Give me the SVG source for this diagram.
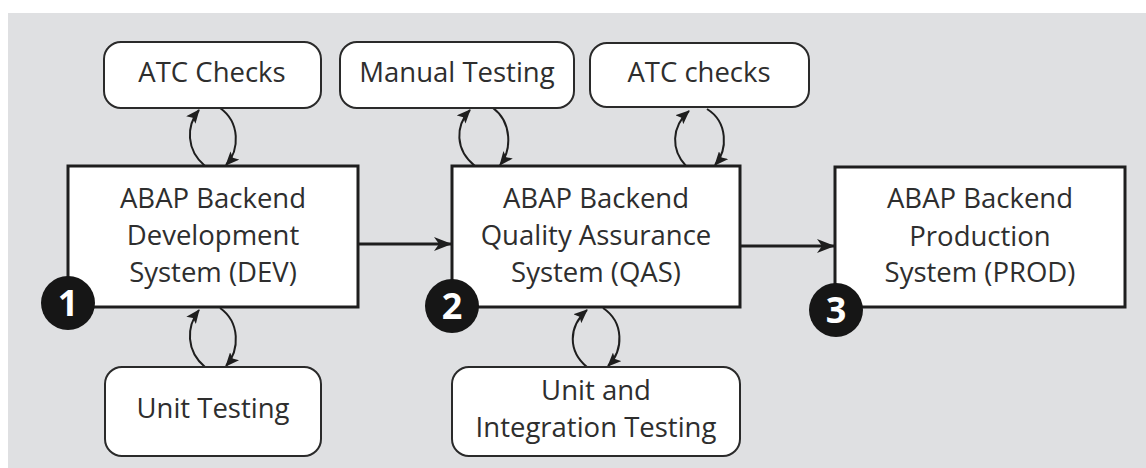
<svg xmlns="http://www.w3.org/2000/svg" width="1146" height="468" viewBox="0 0 1146 468">
  <defs>
    <marker id="ah" viewBox="0 0 14 12" refX="13" refY="6" markerWidth="14" markerHeight="12" markerUnits="userSpaceOnUse" orient="auto">
      <path d="M0,0 L14,6 L0,12 L3,6 Z" fill="#1e1e1e"/>
    </marker>
    <marker id="ahl" viewBox="0 0 18 14" refX="17" refY="7" markerWidth="18" markerHeight="14" markerUnits="userSpaceOnUse" orient="auto">
      <path d="M0,0 L18,7 L0,14 L5,7 Z" fill="#1e1e1e"/>
    </marker>
  </defs>
  <style>
    .sys { fill: #ffffff; stroke: #1e1e1e; stroke-width: 3; }
    .act { fill: #ffffff; stroke: #2a2a2a; stroke-width: 2; }
    .t { font-family: "Open Sans", "Noto Sans", sans-serif; font-size: 27.5px; fill: #2e2e2e; text-anchor: middle; }
    .num { font-family: "Open Sans", "Noto Sans", sans-serif; font-size: 36px; font-weight: bold; fill: #ffffff; text-anchor: middle; }
    .badge { fill: #161616; }
    .loop { fill: none; stroke: #1e1e1e; stroke-width: 2; marker-end: url(#ah); }
    .flow { fill: none; stroke: #1e1e1e; stroke-width: 3; marker-end: url(#ahl); }
  </style>
  <rect x="8" y="13" width="1138" height="455" fill="#dfe0e2"/>

  <g id="connectors">
    <path class="flow" d="M358,244 L451,244"/>
    <path class="flow" d="M740,246 L834,246"/>
    <!-- DEV <-> ATC Checks -->
    <path class="loop" d="M205,166 C186,150 186,126 199,110"/>
    <path class="loop" d="M220,108 C240,122 240,150 226,165"/>
    <!-- DEV <-> Unit Testing -->
    <path class="loop" d="M205,367 C186,351 186,327 199,310"/>
    <path class="loop" d="M220,308 C240,322 240,350 226,366"/>
    <!-- QAS <-> Manual Testing -->
    <path class="loop" d="M475,166 C455,150 455,126 470,110"/>
    <path class="loop" d="M493,108 C512,122 512,150 500,165"/>
    <!-- QAS <-> ATC checks -->
    <path class="loop" d="M686,166 C671,150 671,127 689,111"/>
    <path class="loop" d="M707,109 C728,122 728,150 715,165"/>
    <!-- QAS <-> Unit and Integration -->
    <path class="loop" d="M587,367 C568,351 568,327 587,310"/>
    <path class="loop" d="M603,308 C624,322 624,350 608,366"/>
  </g>

  <g id="atc-dev">
    <rect class="act" x="104" y="42" width="217" height="66" rx="17"/>
    <text class="t" x="212" y="82">ATC Checks</text>
  </g>
  <g id="manual-testing">
    <rect class="act" x="340" y="42" width="234" height="66" rx="17"/>
    <text class="t" x="457" y="82">Manual Testing</text>
  </g>
  <g id="atc-qas">
    <rect class="act" x="590" y="43" width="219" height="64" rx="17"/>
    <text class="t" x="699" y="82">ATC checks</text>
  </g>
  <g id="unit-testing">
    <rect class="act" x="105" y="367" width="216" height="89" rx="17"/>
    <text class="t" x="213" y="418">Unit Testing</text>
  </g>
  <g id="unit-integration">
    <rect class="act" x="452" y="367" width="288" height="89" rx="17"/>
    <text class="t" x="596" y="400">Unit and</text>
    <text class="t" x="596" y="437">Integration Testing</text>
  </g>

  <g id="dev">
    <rect class="sys" x="68" y="166" width="290" height="141"/>
    <text class="t" x="213" y="208">ABAP Backend</text>
    <text class="t" x="213" y="245">Development</text>
    <text class="t" x="213" y="282">System (DEV)</text>
    <circle class="badge" cx="68" cy="303" r="27"/>
    <text class="num" x="68" y="316">1</text>
  </g>
  <g id="qas">
    <rect class="sys" x="452" y="166" width="288" height="141"/>
    <text class="t" x="596" y="208">ABAP Backend</text>
    <text class="t" x="596" y="245">Quality Assurance</text>
    <text class="t" x="596" y="282">System (QAS)</text>
    <circle class="badge" cx="452" cy="306" r="27"/>
    <text class="num" x="452" y="319">2</text>
  </g>
  <g id="prod">
    <rect class="sys" x="835" y="167" width="290" height="140"/>
    <text class="t" x="980" y="208">ABAP Backend</text>
    <text class="t" x="980" y="246">Production</text>
    <text class="t" x="980" y="282">System (PROD)</text>
    <circle class="badge" cx="836" cy="310" r="27"/>
    <text class="num" x="836" y="323">3</text>
  </g>
</svg>
